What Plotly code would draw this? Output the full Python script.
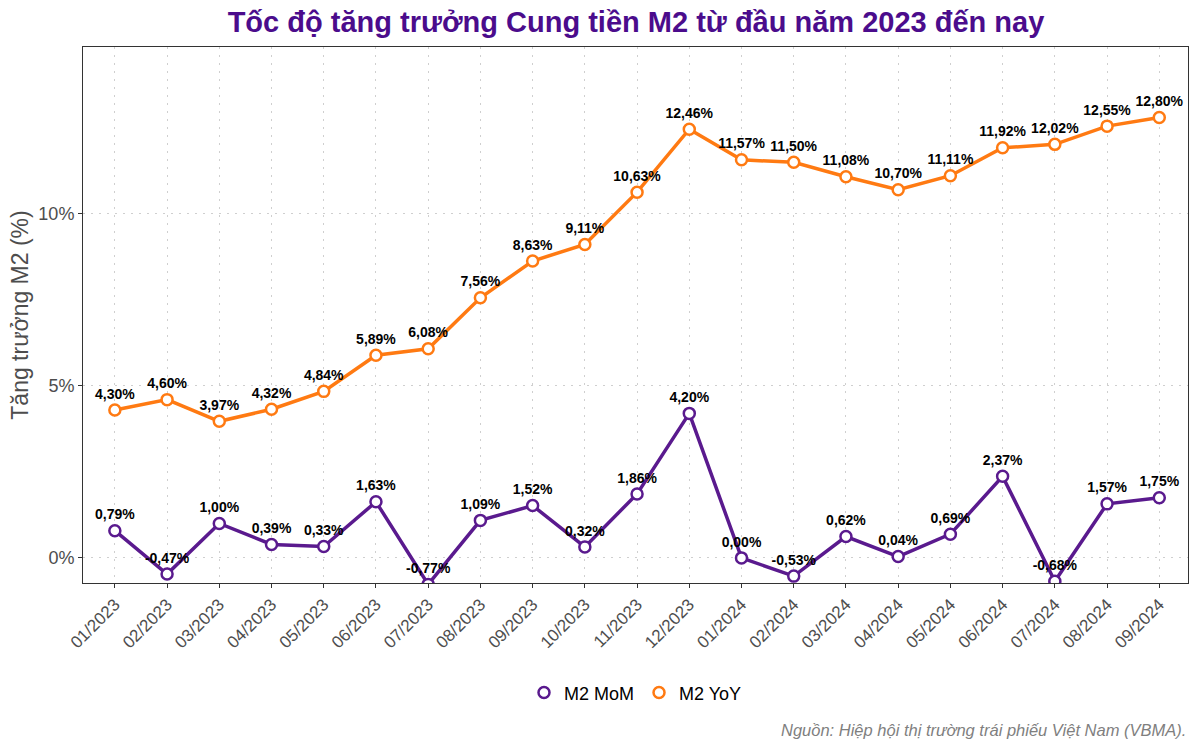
import plotly.graph_objects as go

months = ["01/2023","02/2023","03/2023","04/2023","05/2023","06/2023","07/2023","08/2023",
          "09/2023","10/2023","11/2023","12/2023","01/2024","02/2024","03/2024","04/2024",
          "05/2024","06/2024","07/2024","08/2024","09/2024"]
mom = [0.79,-0.47,1.00,0.39,0.33,1.63,-0.77,1.09,1.52,0.32,1.86,4.20,0.00,-0.53,0.62,0.04,0.69,2.37,-0.68,1.57,1.75]
yoy = [4.30,4.60,3.97,4.32,4.84,5.89,6.08,7.56,8.63,9.11,10.63,12.46,11.57,11.50,11.08,10.70,11.11,11.92,12.02,12.55,12.80]

PURPLE = "#5A1A8E"
ORANGE = "#FF7A12"

def fmt(v):
    return f"{v:.2f}".replace(".", ",") + "%"

fig = go.Figure()
for name, vals, col in [("M2 MoM", mom, PURPLE), ("M2 YoY", yoy, ORANGE)]:
    fig.add_trace(go.Scatter(
        x=months, y=vals, mode="lines+markers+text", name=name, showlegend=False,
        line=dict(color=col, width=3.5),
        marker=dict(size=11, color="white", line=dict(color=col, width=2.5)),
        text=[fmt(v) for v in vals], textposition="top center",
        textfont=dict(family="Liberation Sans, Arial", size=14, color="black", weight="bold"),
        cliponaxis=True,
    ))
    fig.add_trace(go.Scatter(
        x=[None], y=[None], mode="markers", name=name,
        marker=dict(size=11, color="white", line=dict(color=col, width=2.5)),
    ))

GRID = dict(showgrid=True, gridcolor="#CFCFCF", griddash="2px,6px", gridwidth=1.3)

fig.update_layout(
    width=1200, height=750,
    paper_bgcolor="white", plot_bgcolor="white",
    margin=dict(l=83, r=12, t=47, b=167),
    font=dict(family="Liberation Sans, Arial", color="#4D4D4D"),
    title=dict(text="<b>Tốc độ tăng trưởng Cung tiền M2 từ đầu năm 2023 đến nay</b>",
               x=0.53, xanchor="center", y=0.971, yanchor="middle",
               font=dict(size=29, color="#4B0C8C")),
    legend=dict(orientation="h", x=0.5, xanchor="center", y=-0.205, yanchor="middle",
                font=dict(size=18, color="black"), itemwidth=30),
    showlegend=True,
)
fig.update_xaxes(
    type="category", range=[-0.61, 20.55],
    tickangle=-45, tickfont=dict(size=17, color="#4D4D4D"),
    showline=True, linecolor="#333333", linewidth=1, mirror=True,
    ticks="outside", ticklen=4, tickcolor="#333333", **GRID,
)
fig.update_yaxes(
    range=[-0.73, 14.85], tickvals=[0,5,10], ticktext=["0%","5%","10%"],
    tickfont=dict(size=18, color="#4D4D4D"),
    title=dict(text="Tăng trưởng M2 (%)", font=dict(size=23, color="#4D4D4D"), standoff=3),
    zeroline=False,
    showline=True, linecolor="#333333", linewidth=1, mirror=True,
    ticks="outside", ticklen=4, tickcolor="#333333", **GRID,
)
fig.add_annotation(
    text="<i>Nguồn: Hiệp hội thị trường trái phiếu Việt Nam (VBMA).</i>",
    xref="paper", yref="paper", x=1.0, y=-0.275, xanchor="right", yanchor="middle",
    showarrow=False, font=dict(size=16.5, color="#7F7F7F"),
)
fig.write_html("out.html")
